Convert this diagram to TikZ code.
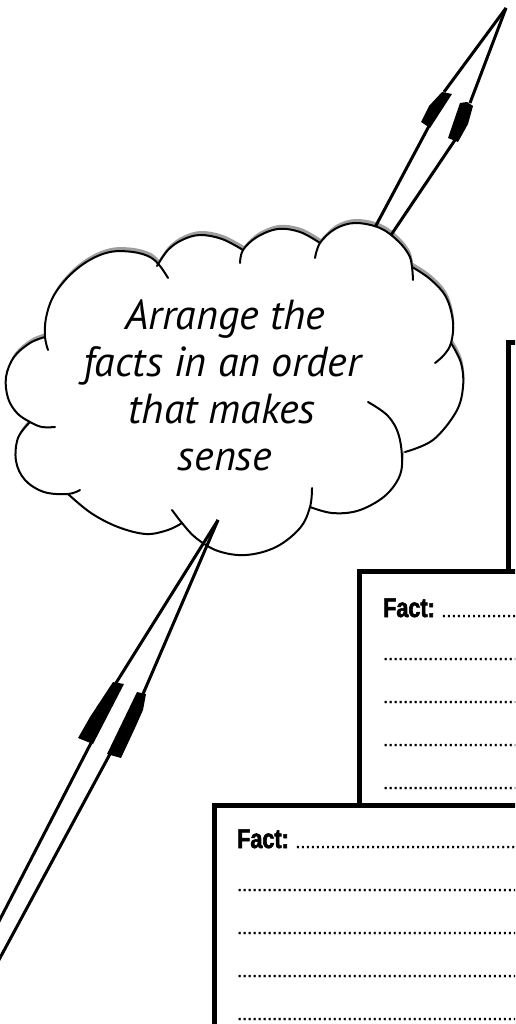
\documentclass[tikz,border=0pt]{standalone}
\usepackage{fontspec}
\newfontfamily\cloudfont{PT Sans}
\newfontfamily\factfont[FakeStretch=0.80, BoldFeatures={FakeBold=2.2}]{Liberation Sans}
\newfontfamily\dotfont[FakeBold=1.5]{Liberation Sans}
\def\dd{..........}
\newcommand\factword{{\factfont\bfseries\fontsize{27}{27}\selectfont Fact:}}
\begin{document}
\begin{tikzpicture}[x=1pt,y=-1pt,
  arrowline/.style={line width=3pt},
  barb/.style={fill=black},
  cloudline/.style={line width=2pt, line cap=round},
  boxline/.style={line width=5pt, fill=white, line join=miter},
  cloudtext/.style={anchor=base, font=\cloudfont\itshape\fontsize{42}{47}\selectfont},
  factrow/.style={anchor=base west, inner sep=0pt, font=\dotfont\fontsize{18}{18}\selectfont}
]
\useasboundingbox (0,0) rectangle (515,1024);
\clip (0,0) rectangle (515,1024);

% ---------- boxes ----------
\draw[boxline] (508.5,342) rectangle (560,1100);
\draw[boxline] (359,571.5) rectangle (560,1100);
\node[factrow] (r21) at (383,617) {\factword{} \dd\dd\dd};
\node[factrow] (r22) at (383,660) {\dd\dd\dd};
\node[factrow] (r23) at (383,703) {\dd\dd\dd};
\node[factrow] (r24) at (383,746) {\dd\dd\dd};
\node[factrow] (r25) at (383,789) {\dd\dd\dd};
\draw[boxline] (214,805) rectangle (560,1100);
\node[factrow] (r31) at (237,848) {\factword{} \dd\dd\dd\dd\dd\dd};
\node[factrow] (r32) at (237,891) {\dd\dd\dd\dd\dd\dd};
\node[factrow] (r33) at (237,934) {\dd\dd\dd\dd\dd\dd};
\node[factrow] (r34) at (237,977) {\dd\dd\dd\dd\dd\dd};
\node[factrow] (r35) at (237,1020) {\dd\dd\dd\dd\dd\dd};

% ---------- cloud outline (closed, for fill/shadow) ----------
\def\cloudpath{
  plot[smooth,tension=0.6] coordinates {(45,337) (46,318) (53,297) (68,277) (88,261) (110,252) (133,252) (150,257) (158,264)}
  -- plot[smooth,tension=0.6] coordinates {(158,264) (168,250) (182,240) (200,235) (222,239) (243,250)}
  -- plot[smooth,tension=0.6] coordinates {(243,250) (257,237) (278,229) (300,232) (320,243)}
  -- plot[smooth,tension=0.6] coordinates {(320,243) (335,229) (355,223) (380,228) (398,241) (409,255) (412,267)}
  -- plot[smooth,tension=0.6] coordinates {(412,267) (430,279) (446,297) (453,322) (451,343)}
  -- plot[smooth,tension=0.6] coordinates {(451,343) (461,363) (463,387) (456,412) (433,440) (403,451)}
  -- plot[smooth,tension=0.6] coordinates {(403,451) (402,465) (396,483) (381,499) (357,511) (332,513) (310,507)}
  -- plot[smooth,tension=0.6] coordinates {(310,507) (300,528) (276,547) (246,555) (218,551) (196,538) (182,523)}
  -- plot[smooth,tension=0.6] coordinates {(182,523) (168,530) (146,534) (118,527) (91,513) (68,494)}
  -- plot[smooth,tension=0.6] coordinates {(68,494) (44,492) (25,480) (16,461) (18,438) (30,422)}
  -- plot[smooth,tension=0.6] coordinates {(30,422) (17,413) (8,398) (6,377) (14,357) (30,343) (45,337)}
  -- cycle}

% shadow
\fill[black!38, shift={(1,-4)}] \cloudpath;

% ---------- upper arrow ----------
\coordinate (ut) at (506,8);
\coordinate (ulh) at (444,92);
\coordinate (urh) at (470,103);
\coordinate (uls) at (429,126);
\coordinate (ule) at (372,233);
\coordinate (urs) at (455,140);
\coordinate (ure) at (387,241);
\draw[arrowline] (ut) -- (ulh);
\draw[arrowline] (ut) -- (urh);
\fill[barb] (421,122) -- (429,106) -- (442,92) -- (452,94) -- (430,128) -- cycle;
\fill[barb] (448,138) -- (460,103) -- (467,102) -- (473,106) -- (468,124) -- (458,142) -- cycle;
\draw[arrowline] (uls) -- (ule);
\draw[arrowline] (urs) -- (ure);

% ---------- cloud ----------
\fill[white] \cloudpath;
\begin{scope}[cloudline]
\draw plot[smooth,tension=0.6] coordinates {(48,350) (45,337) (46,318) (53,297) (68,277) (88,261) (110,252) (133,252) (150,257) (160,266) (168,278)};
\draw plot[smooth,tension=0.6] coordinates {(157,266) (168,250) (182,240) (200,235) (222,239) (243,250)};
\draw plot[smooth,tension=0.6] coordinates {(240,263) (243,250) (257,237) (278,229) (300,232) (320,243)};
\draw plot[smooth,tension=0.6] coordinates {(315,258) (320,243) (335,229) (355,223) (380,228) (398,241) (409,255) (412,267) (413,280)};
\draw plot[smooth,tension=0.6] coordinates {(412,267) (430,279) (446,297) (453,322) (451,343) (444,355) (435,363)};
\draw plot[smooth,tension=0.6] coordinates {(451,343) (461,363) (463,387) (456,412) (433,440) (405,452)};
\draw plot[smooth,tension=0.6] coordinates {(368,402) (388,416) (399,436) (402,465) (396,483) (381,499) (357,511) (332,513) (310,507)};
\draw plot[smooth,tension=0.6] coordinates {(312,488) (310,507) (300,528) (276,547) (246,555) (218,551) (196,538) (182,523) (172,510)};
\draw plot[smooth,tension=0.6] coordinates {(68,494) (91,513) (118,527) (146,534) (168,530) (182,523)};
\draw plot[smooth,tension=0.6] coordinates {(30,422) (18,438) (16,461) (25,480) (44,492) (68,494) (80,490)};
\draw plot[smooth,tension=0.6] coordinates {(45,337) (30,343) (14,357) (6,377) (8,398) (17,413) (30,422) (42,427) (55,427)};
\end{scope}

\node[cloudtext] (c1) at (225,329) {Arrange the};
\node[cloudtext] (c2) at (222,376) {facts in an order};
\node[cloudtext] (c3) at (222,423) {that makes};
\node[cloudtext] (c4) at (225,470) {sense};

% ---------- lower arrow ----------
\coordinate (lt) at (218,520);
\coordinate (llh) at (116,683);
\coordinate (lrh) at (143,694);
\coordinate (lls) at (91,743);
\coordinate (lle) at (-20,958);
\coordinate (lrs) at (110,754);
\coordinate (lre) at (-20,995);
\draw[arrowline] (lt) -- (llh);
\draw[arrowline] (lt) -- (lrh);
\fill[barb] (113,682) -- (124,684) -- (93,744) -- (78,738) -- (90,717) -- cycle;
\fill[barb] (137,692) -- (146,694) -- (143,710) -- (135,728) -- (121,758) -- (107,754) -- cycle;
\draw[arrowline] (lls) -- (lle);
\draw[arrowline] (lrs) -- (lre);
\end{tikzpicture}
\end{document}
